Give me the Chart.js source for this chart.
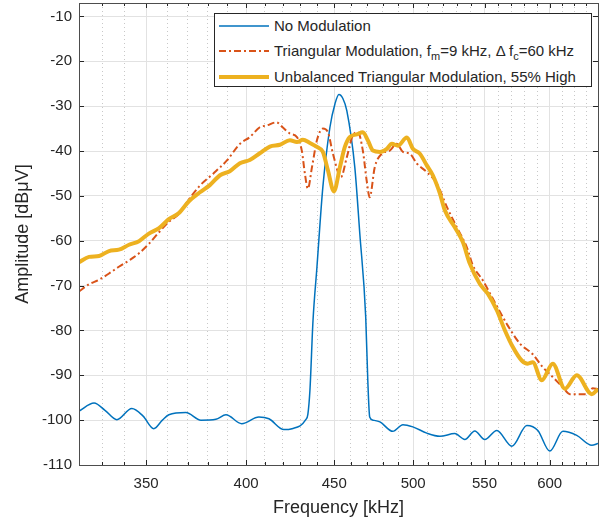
<!DOCTYPE html>
<html>
<head>
<meta charset="utf-8">
<script src="https://cdn.jsdelivr.net/npm/chart.js@4.4.1/dist/chart.umd.min.js"></script>
<style>
  html, body { margin:0; padding:0; background:#fff; }
  #wrap { position:relative; width:603px; height:520px; }
  #legend { position:absolute; left:214px; top:13px; width:376px; height:72px; border:1px solid #262626; background:#fff;
            font-family:"Liberation Sans", Arial, sans-serif; font-size:15px; color:#262626; }
  .row { position:absolute; left:0; height:20px; line-height:20px; white-space:nowrap; }
  .row svg { position:absolute; left:4px; top:0; }
  .row .t { position:absolute; left:59px; top:0; }
  .sub { font-size:11px; position:relative; top:4px; }
</style>
</head>
<body>
<div id="wrap">
  <canvas id="chart" width="603" height="520"></canvas>
  <div id="legend">
    <div class="row" style="top:2px">
      <svg width="52" height="20"><line x1="0" y1="10" x2="50" y2="10" stroke="#0072BD" stroke-width="1.5"/></svg>
      <span class="t">No Modulation</span>
    </div>
    <div class="row" style="top:27px">
      <svg width="52" height="20"><line x1="0" y1="10" x2="50" y2="10" stroke="#D95319" stroke-width="2" stroke-dasharray="7,3,2,3"/></svg>
      <span class="t">Triangular Modulation, f<span class="sub">m</span>=9 kHz, Δ f<span class="sub">c</span>=60 kHz</span>
    </div>
    <div class="row" style="top:53px">
      <svg width="52" height="20"><line x1="0" y1="10" x2="50" y2="10" stroke="#EDB120" stroke-width="4"/></svg>
      <span class="t">Unbalanced Triangular Modulation, 55% High</span>
    </div>
  </div>
</div>
<script>
// axis ticks
const xTicks = [];
for (let f = 320; f <= 640; f += 10) xTicks.push(f);
const xLabels = [350, 400, 450, 500, 550, 600];
const yTicks = [-110, -100, -90, -80, -70, -60, -50, -40, -30, -20, -10];

// No Modulation
const noModFreq = [320, 326.5, 331.3, 336.6, 343.4, 348.6, 353.6, 357.7, 360.8, 369.1, 376.6, 384.2, 389.4, 397.7,
  406.9, 412.4, 420.7, 425.3, 433.2, 434.4, 435.6, 437.4, 439.7, 443.2, 447.4, 450.4, 452.8, 455.2, 457.6, 462.5,
  465.6, 469.3, 470.6, 471.8, 473.8, 478.3, 486.6, 493.2, 499.8, 509.2, 518.2, 528.6, 535.7, 542.9, 550.2, 559.1,
  570.5, 582.0, 590.6, 600.1, 610.7, 622.1, 634.7, 640];
const noModAmp = [-98.0, -96.2, -97.8, -99.9, -97.4, -99.1, -101.9, -100.0, -98.8, -98.3, -100.0, -99.8, -98.8, -100.8,
  -99.3, -99.7, -102.1, -101.9, -99.9, -98.7, -93.4, -77.8, -65.9, -48.0, -34.7, -29.5, -27.4, -28.3, -31.0, -43.6,
  -58.4, -77.0, -91.1, -99.3, -100.0, -100.4, -102.5, -101.0, -101.5, -102.9, -103.6, -103.0, -104.3, -102.4, -104.3, -102.3,
  -105.8, -101.2, -102.3, -106.9, -102.5, -103.4, -105.6, -105.2];

// Triangular Modulation
const triFreq = [320, 324.3, 328.7, 333.1, 337.5, 342.1, 346.7, 351.3, 356.1, 360.8, 365.7, 370.6, 376.1, 382.7,
  389.9, 396.7, 402.0, 407.4, 411.2, 416.6, 420.0, 424.1, 428.1, 430.9, 432.7, 434.4, 436.8, 439.7, 443.2, 446.2,
  449.2, 454.0, 457.6, 461.3, 464.4, 467.5, 469.9, 471.8, 475.0, 479.5, 484.6, 489.2, 493.2, 497.8, 502.5, 509.2,
  516.1, 523.1, 530.0, 537.1, 541.5, 548.7, 556.1, 566.7, 576.5, 586.6, 594.5, 602.5, 610.7, 616.4, 630.5, 635.6, 640];
const triAmp = [-71.3, -69.7, -68.7, -67.3, -65.8, -64.4, -62.8, -60.7, -58.1, -55.8, -54.0, -50.8, -47.7, -45.1,
  -42.1, -38.4, -36.9, -34.7, -34.3, -33.6, -34.7, -36.1, -36.9, -39.9, -45.1, -48.4, -43.6, -37.6, -35.0, -35.8,
  -40.6, -45.8, -41.4, -36.5, -35.8, -39.9, -46.6, -50.3, -43.6, -40.6, -39.9, -38.4, -40.2, -40.6, -42.8, -44.7,
  -47.3, -52.5, -57.0, -61.4, -65.5, -68.8, -72.9, -78.6, -82.9, -85.3, -88.2, -90.4, -92.7, -94.2, -94.2, -92.9, -93.1];

// Unbalanced Triangular Modulation, 55% High
const unbFreq = [320, 324.3, 328.7, 333.1, 337.5, 342.1, 346.7, 351.3, 356.1, 360.8, 365.7, 370.6, 376.1, 381.1,
  386.3, 391.4, 396.7, 402.0, 407.4, 412.9, 418.5, 424.1, 428.1, 431.5, 435.6, 439.7, 443.2, 446.2, 449.8, 453.4,
  456.4, 459.4, 463.7, 467.5, 470.6, 473.8, 478.3, 482.7, 486.0, 489.9, 495.8, 499.8, 504.5, 509.2, 513.3, 518.2,
  521.6, 528.6, 534.3, 539.3, 546.5, 552.4, 559.1, 565.2, 571.2, 578.0, 582.7, 586.6, 593.7, 602.5, 612.3, 622.1, 634.7, 640];
const unbAmp = [-64.8, -63.6, -63.4, -62.3, -62.0, -60.9, -60.1, -58.4, -57.2, -55.2, -53.8, -51.2, -49.2, -47.6,
  -45.4, -44.5, -42.7, -42.0, -40.5, -39.0, -38.6, -37.6, -38.0, -37.5, -38.2, -39.1, -40.2, -44.3, -49.0, -43.6,
  -39.1, -36.9, -36.3, -35.8, -37.6, -39.9, -40.2, -39.5, -38.4, -38.8, -37.0, -39.5, -40.6, -43.2, -45.4, -49.5,
  -53.2, -57.0, -60.3, -65.1, -69.6, -71.8, -75.5, -80.0, -83.7, -86.7, -87.4, -87.1, -91.1, -87.4, -93.0, -90.0, -94.2, -93.1];

const pts = (xs, ys) => xs.map((x, i) => ({ x: x, y: ys[i] }));
const isMajorX = v => xLabels.includes(v);
const axisColor = "#262626";

Chart.defaults.font.family = '"Liberation Sans", Arial, sans-serif';
Chart.defaults.color = axisColor;

// box + inward ticks like matlab
const boxPlugin = {
  id: "box",
  afterDraw(chart) {
    const { ctx, chartArea: a, scales } = chart;
    ctx.save();
    ctx.strokeStyle = axisColor;
    ctx.lineWidth = 1;
    ctx.beginPath();
    for (const v of xTicks) {
      const px = Math.round(scales.x.getPixelForValue(v)) + 0.5;
      const len = isMajorX(v) ? 5 : 3;
      ctx.moveTo(px, a.bottom); ctx.lineTo(px, a.bottom - len);
      ctx.moveTo(px, a.top); ctx.lineTo(px, a.top + len);
    }
    for (const v of yTicks) {
      const py = Math.round(scales.y.getPixelForValue(v)) + 0.5;
      ctx.moveTo(a.left, py); ctx.lineTo(a.left + 5, py);
      ctx.moveTo(a.right, py); ctx.lineTo(a.right - 5, py);
    }
    ctx.stroke();
    ctx.strokeStyle = "#4d4d4d";
    ctx.strokeRect(Math.round(a.left) + 0.5, Math.round(a.top) + 0.5,
      Math.round(a.right - a.left), Math.round(a.bottom - a.top));
    ctx.restore();
  }
};

new Chart(document.getElementById("chart"), {
  type: "line",
  data: {
    datasets: [
      { label: "Unbalanced Triangular Modulation, 55% High", data: pts(unbFreq, unbAmp), order: 0,
        borderColor: "#EDB120", borderWidth: 4, borderJoinStyle: "round", cubicInterpolationMode: "monotone" },
      { label: "Triangular Modulation", data: pts(triFreq, triAmp), order: 1,
        borderColor: "#D95319", borderWidth: 2, borderDash: [7, 3, 2, 3], cubicInterpolationMode: "monotone" },
      { label: "No Modulation", data: pts(noModFreq, noModAmp), order: 2,
        borderColor: "#0072BD", borderWidth: 1.5, borderJoinStyle: "round", cubicInterpolationMode: "monotone" }
    ]
  },
  options: {
    responsive: false,
    animation: false,
    devicePixelRatio: 1,
    layout: { padding: { top: 3, right: 5, left: 0, bottom: 0 } },
    plugins: { legend: { display: false }, tooltip: { enabled: false } },
    elements: { point: { radius: 0 } },
    scales: {
      x: {
        type: "logarithmic", min: 320, max: 640,
        afterBuildTicks: s => { s.ticks = xTicks.map(v => ({ value: v })); },
        afterFit: s => { s.height = 55; s.paddingLeft = 0; s.paddingRight = 0; },
        ticks: { autoSkip: false, maxRotation: 0, padding: 10, color: axisColor, font: { size: 15 },
                 callback: v => isMajorX(v) ? String(v) : "" },
        grid: { drawTicks: false, lineWidth: 1,
                color: c => (c.tick && isMajorX(c.tick.value)) ? "#e2e2e2" : "#c8c8c8" },
        border: { display: false, dash: c => (c.tick && !isMajorX(c.tick.value)) ? [1, 3] : [] },
        title: { display: true, text: "Frequency [kHz]", color: axisColor, font: { size: 18 }, padding: { top: 0, bottom: 1 } }
      },
      y: {
        min: -110, max: -7,
        afterBuildTicks: s => { s.ticks = yTicks.map(v => ({ value: v })); },
        afterFit: s => { s.width = 79; s.paddingTop = 0; s.paddingBottom = 0; },
        ticks: { padding: 7, color: axisColor, font: { size: 15 } },
        grid: { drawTicks: false, color: "#e2e2e2", lineWidth: 1 },
        border: { display: false },
        title: { display: true, text: "Amplitude [dBμV]", color: axisColor, font: { size: 18 }, padding: { top: 12, bottom: 0 } }
      }
    }
  },
  plugins: [boxPlugin]
});
</script>
</body>
</html>
